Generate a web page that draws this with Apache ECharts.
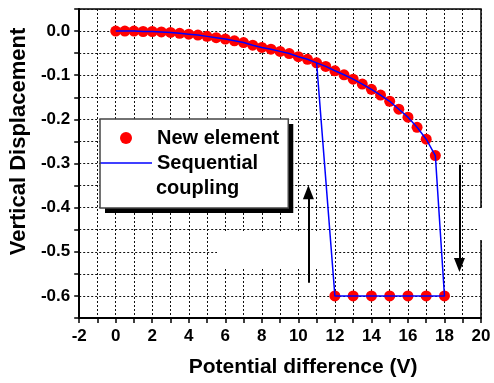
<!DOCTYPE html>
<html>
<head>
<meta charset="utf-8">
<script src="https://cdn.jsdelivr.net/npm/echarts@6/dist/echarts.min.js"></script>
<style>
  html, body { margin: 0; padding: 0; background: #fff; }
  #chart { width: 494px; height: 383px; }
</style>
</head>
<body>
<div id="chart"></div>
<script>
// curve part (before snap-through)
const curveX = [0, 0.5, 1, 1.5, 2, 2.5, 3, 3.5, 4, 4.5, 5, 5.5, 6, 6.5, 7, 7.5, 8, 8.5,
  9, 9.5, 10, 10.5, 11, 11.5, 12, 12.5, 13, 13.5, 14, 14.5, 15, 15.5, 16, 16.5, 17, 17.5];
const curveY = [0, 0, 0, -0.001, -0.001, -0.002, -0.003, -0.005, -0.007, -0.009, -0.012, -0.015,
  -0.018, -0.022, -0.026, -0.032, -0.037, -0.041, -0.046, -0.051, -0.058, -0.064, -0.072, -0.080,
  -0.090, -0.099, -0.109, -0.120, -0.132, -0.145, -0.159, -0.177, -0.195, -0.218, -0.245, -0.282];
// snapped state
const snapX = [12, 13, 14, 15, 16, 17, 18];
const snapY = [-0.6, -0.6, -0.6, -0.6, -0.6, -0.6, -0.6];
// sequential coupling closes the loop: down at 18, back along -0.6, up at 11
const loopX = [18, 12, 11];
const loopY = [-0.6, -0.6, -0.072];
// arrows [x, yStart, yEnd]
const arrowUp = [10.55, -0.57, -0.365];
const arrowDown = [18.82, -0.303, -0.53];

const elemData = curveX.map((x, i) => [x, curveY[i]])
  .concat(snapX.map((x, i) => [x, snapY[i]]));
const seqData = curveX.map((x, i) => [x, curveY[i]])
  .concat(loopX.map((x, i) => [x, loopY[i]]));

const FONT = 'Liberation Sans, Arial, sans-serif';
const chart = echarts.init(document.getElementById('chart'));

const gridDots = { show: true, lineStyle: { color: '#111', type: [2, 2], width: 1 } };

const arrow = (a) => [
  { coord: [a[0], a[1]], symbol: 'none' },
  { coord: [a[0], a[2]], symbol: 'triangle', symbolSize: [11, 14] }
];

const legendBase = {
  left: 100, top: 119, orient: 'vertical',
  itemWidth: 52, itemHeight: 12, itemGap: 1,
  padding: [7, 9, 33, 0],
  textStyle: { fontFamily: FONT, fontWeight: 'bold', fontSize: 20, color: '#000', lineHeight: 24 },
  formatter: (n) => n === 'Sequential coupling' ? 'Sequential' : n,
  data: [
    { name: 'New element', icon: 'circle' },
    { name: 'Sequential coupling', icon: 'path://M0,0L52,0L52,1.5L0,1.5Z' }
  ]
};

chart.setOption({
  animation: false,
  backgroundColor: '#fff',
  grid: { left: 79, right: 13, top: 9, bottom: 65, show: true, borderColor: '#000', borderWidth: 1.5 },
  xAxis: {
    type: 'value', min: -2, max: 20, interval: 2,
    name: 'Potential difference (V)', nameLocation: 'middle', nameGap: 39,
    nameTextStyle: { fontFamily: FONT, fontWeight: 'bold', fontSize: 21, color: '#000', padding: [0, 0, 0, 46] },
    axisLine: { onZero: false, lineStyle: { color: '#000', width: 2 } },
    axisTick: { length: 5, lineStyle: { color: '#000', width: 1.5 } },
    minorTick: { show: true, splitNumber: 2, length: 5, lineStyle: { color: '#000', width: 1.5 } },
    splitLine: gridDots,
    minorSplitLine: gridDots,
    axisLabel: { fontFamily: FONT, fontWeight: 'bold', fontSize: 17, color: '#000', margin: 10 }
  },
  yAxis: {
    type: 'value', min: -0.65, max: 0.05, interval: 0.05,
    name: 'Vertical Displacement', nameLocation: 'middle', nameGap: 38,
    nameTextStyle: { fontFamily: FONT, fontWeight: 'bold', fontSize: 22, color: '#000', padding: [0, 0, 0, 44] },
    axisLine: { onZero: false, lineStyle: { color: '#000', width: 2 } },
    axisTick: { length: 5, lineStyle: { color: '#000', width: 1.5 } },
    splitLine: gridDots,
    axisLabel: {
      fontFamily: FONT, fontWeight: 'bold', fontSize: 17, color: '#000', margin: 9,
      formatter: (v) => {
        if (Math.round(v * 100) % 10 !== 0) return '';
        if (Math.abs(v) < 1e-9) return '0.0';
        return v.toFixed(1);
      }
    }
  },
  legend: [
    // filled box with the hard black shadow
    Object.assign({}, legendBase, {
      backgroundColor: '#fff', borderWidth: 0,
      shadowColor: '#000', shadowBlur: 0, shadowOffsetX: 5, shadowOffsetY: 5
    }),
    // same box again, only its grey border
    Object.assign({}, legendBase, {
      z: 5, borderColor: '#444', borderWidth: 1.5, backgroundColor: 'transparent',
      textStyle: Object.assign({}, legendBase.textStyle, { color: 'rgba(0,0,0,0)' }),
      itemStyle: { opacity: 0 }, lineStyle: { opacity: 0 }
    })
  ],
  graphic: [
    { type: 'text', left: 156, top: 178, z: 100,
      style: { text: 'coupling', fontFamily: FONT, fontWeight: 'bold', fontSize: 20, fill: '#000' } },
    { type: 'rect', z: 1, shape: { x: 217, y: 233, width: 118, height: 34 }, style: { fill: '#fff' } },
    { type: 'rect', z: 1, shape: { x: 477, y: 208, width: 8, height: 32 }, style: { fill: '#fff' } }
  ],
  series: [
    {
      name: 'New element', type: 'scatter', symbol: 'circle', symbolSize: 11,
      itemStyle: { color: '#ff0000', opacity: 1 },
      data: elemData, z: 3
    },
    {
      name: 'Sequential coupling', type: 'line', showSymbol: false, symbol: 'none',
      lineStyle: { color: '#0000ff', width: 1.5 },
      itemStyle: { color: '#0000ff' },
      data: seqData, z: 4,
      markLine: {
        silent: true, symbol: ['none', 'triangle'],
        lineStyle: { color: '#000', width: 2, type: 'solid' },
        label: { show: false },
        data: [arrow(arrowUp), arrow(arrowDown)]
      }
    }
  ]
});
</script>
</body>
</html>
